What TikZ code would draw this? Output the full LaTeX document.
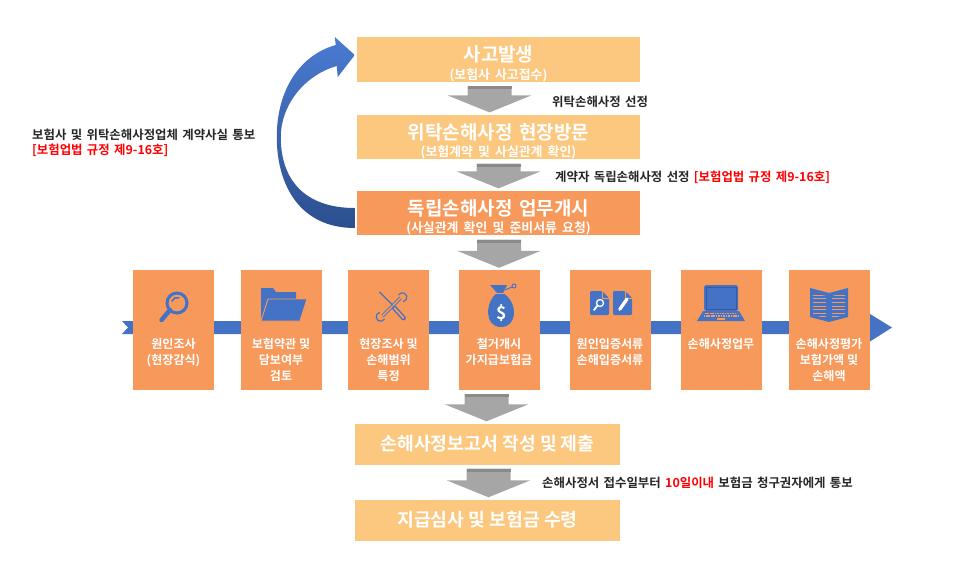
\documentclass[tikz,border=0pt]{standalone}
\usepackage{fontspec}
\setmainfont{Noto Sans CJK KR}[BoldFont={Noto Sans CJK KR Bold}]
\usetikzlibrary{calc}
\usetikzlibrary{patterns}

\definecolor{lightbox}{HTML}{FCC77E}
\definecolor{darkbox}{HTML}{F8995C}
\definecolor{iconblue}{HTML}{4472C4}
\definecolor{arrowgray}{HTML}{A6A6A6}
\definecolor{arrowedge}{HTML}{8A8A8A}
\definecolor{curvetop}{HTML}{4A7BD2}
\definecolor{curvebottom}{HTML}{2C4F8E}
\definecolor{lawred}{HTML}{FF0000}

\newcommand{\widespace}[1]{\spaceskip=#1\relax}
\newcommand{\subfont}{\fontsize{11}{13}\selectfont\widespace{0.4em}}
\newcommand{\grayarrow}[3][0]{%
  \fill[arrowgray] let \p1=(#2.south), \p2=(#3.north) in
    ($(\x2,\y1)+(#1-22,4)$) -- ($(\x2,\y1)+(#1+22,4)$) --
    ($(\x2,\y2)+(#1+22,-19)$) -- ($(\x2,\y2)+(#1+42,-19)$) --
    ($(\x2,\y2)+(#1,-2)$) -- ($(\x2,\y2)+(#1-42,-19)$) --
    ($(\x2,\y2)+(#1-22,-19)$) -- cycle;
  \fill[arrowedge] let \p1=(#2.south), \p2=(#3.north) in
    ($(\x2,\y1)+(#1-22,4)$) rectangle ($(\x2,\y1)+(#1+22,7)$);}

\begin{document}
\begin{tikzpicture}[x=0.03cm, y=-0.03cm,
    titlebox/.style={fill=lightbox, minimum width=8.49cm, minimum height=1.23cm,
      inner sep=0pt, text=white, align=center,
      font=\bfseries\fontsize{16.2}{18}\selectfont\widespace{0.35em}},
    stepbox/.style={fill=darkbox, minimum width=2.43cm, minimum height=3.6cm, inner sep=0pt},
    steptext/.style={text=white, align=center, anchor=north, inner sep=0pt,
      font=\bfseries\fontsize{10.3}{13.6}\selectfont},
    note/.style={anchor=west, inner sep=0pt, text=black!85,
      font=\bfseries\fontsize{10.6}{13}\selectfont\widespace{0.35em}}]
    \useasboundingbox (0,0) rectangle (958,584);

    \node[titlebox] (accident) at (498.5,59.5) {\rule{0pt}{21pt}사고발생\\[-3pt]{\subfont (보험사 사고접수)}};
    \node[titlebox] (visit) at (498.5,137) {\rule{0pt}{21pt}위탁손해사정 현장방문\\[-3pt]{\subfont (보험계약 및 사실관계 확인)}};
    \node[titlebox, fill=darkbox] (indep) at (498.5,213) {\rule{0pt}{21pt}독립손해사정 업무개시\\[-3pt]{\subfont (사실관계 확인 및 준비서류 요청)}};
    \node[titlebox, minimum width=7.95cm, font=\bfseries\fontsize{15.6}{18}\selectfont] (report) at (487.5,444) {손해사정보고서 작성 및 제출};
    \node[titlebox, minimum width=7.95cm, font=\bfseries\fontsize{15.6}{18}\selectfont] (payment) at (487.5,520) {지급심사 및 보험금 수령};

    \coordinate (bandstart) at (122,327.5);
    \coordinate (bandend) at (892,327.5);
    \fill[iconblue] ($(bandstart)+(0,-6.5)$) -- ($(bandend)+(-22,-6.5)$) -- ($(bandend)+(-22,-13.5)$)
      -- (bandend) -- ($(bandend)+(-22,14)$) -- ($(bandend)+(-22,6.5)$)
      -- ($(bandstart)+(0,6.5)$) -- ($(bandstart)+(6,0)$) -- cycle;

    \node[stepbox] (s1) at (173.5,330) {};
    \node[stepbox] (s2) at (281,330) {};
    \node[stepbox] (s3) at (388.5,330) {};
    \node[stepbox] (s4) at (499,330) {};
    \node[stepbox] (s5) at (610,330) {};
    \node[stepbox] (s6) at (721,330) {};
    \node[stepbox] (s7) at (829,330) {};

    \node[steptext] (t1) at ($(s1.center)+(0,8)$) {원인조사\\(현장감식)};
    \node[steptext] (t2) at ($(s2.center)+(0,8)$) {보험약관 및\\담보여부\\검토};
    \node[steptext] (t3) at ($(s3.center)+(0,8)$) {현장조사 및\\손해범위\\특정};
    \node[steptext] (t4) at ($(s4.center)+(0,8)$) {철거개시\\가지급보험금};
    \node[steptext] (t5) at ($(s5.center)+(0,8)$) {원인입증서류\\손해입증서류};
    \node[steptext] (t6) at ($(s6.center)+(0,8)$) {손해사정업무};
    \node[steptext] (t7) at ($(s7.center)+(0,8)$) {손해사정평가\\보험가액 및\\손해액};

    \begin{scope}[shift={(s1.center)}]
      \draw[iconblue, line width=2.6pt] (3.5,-27) circle (10);
      \draw[iconblue, line width=1.3pt, line cap=round] (3.5,-27) ++(200:5.5) arc (200:290:5.5);
      \draw[iconblue, line width=3.8pt, line cap=round] (-3.5,-20) -- (-12,-10);
    \end{scope}

    \begin{scope}[shift={(s2.center)}]
      \fill[iconblue] (-20,-9) -- (-20,-42) -- (-8,-42) -- (-5,-38) -- (15,-38) -- (15,-30)
        -- (-13,-30) -- cycle;
      \filldraw[iconblue, draw=darkbox, line width=0.8pt] (-20,-9) -- (-13,-31) -- (26,-31) -- (19,-9) -- cycle;
    \end{scope}

    \begin{scope}[shift={(s3.center)}]
      \draw[iconblue, line width=3pt] (-6,-14) -- (12,-32);
      \draw[darkbox, line width=1.4pt] (-6,-14) -- (12,-32);
      \draw[iconblue, line width=1pt] (-4,-11) arc (30:260:4.5);
      \draw[iconblue, line width=1pt] (10,-35) arc (210:440:4.5);
      \draw[iconblue, line width=1pt, line cap=round] (-9,-38) -- (4,-25);
      \draw[iconblue, line width=4pt, line cap=round] (6,-22) -- (15,-12);
      \draw[darkbox, line width=1.6pt, line cap=round] (6,-22) -- (15,-12);
    \end{scope}

    \begin{scope}[shift={(s4.center)}]
      \fill[iconblue] (-9,-45) -- (8,-45) -- (4,-37) .. controls (19,-28) and (19,-3) .. (2,-3)
        .. controls (-15,-3) and (-14,-28) .. (-2,-37) -- cycle;
      \draw[darkbox, line width=0.8pt] (-3,-37) -- (5,-37);
      \draw[iconblue, line width=0.8pt] (6,-40) -- (13,-43);
      \draw[iconblue, line width=0.8pt] (15,-44) circle (2);
      \node[text=white, font=\bfseries\fontsize{15}{15}\selectfont, inner sep=0pt] (dollar) at (2.5,-17) {\$};
    \end{scope}

    \begin{scope}[shift={(s5.center)}]
      \fill[iconblue, rounded corners=1pt] (-20,-15) -- (-20,-39) -- (-8,-39) -- (-1,-32) -- (-1,-15) -- cycle;
      \fill[iconblue, rounded corners=1pt] (3,-15) -- (3,-39) -- (15,-39) -- (22,-32) -- (22,-15) -- cycle;
      \draw[darkbox, line width=0.6pt] (-8,-39) -- (-8,-32) -- (-1,-32);
      \draw[darkbox, line width=0.6pt] (15,-39) -- (15,-32) -- (22,-32);
      \draw[white, line width=1.1pt] (-10,-27) circle (3.5);
      \draw[white, line width=1.6pt, line cap=round] (-12.5,-24.5) -- (-16,-20);
      \draw[white, line width=2.8pt, line cap=round] (17,-31) -- (10,-21);
      \fill[white] (9,-19) -- (8.5,-22) -- (11,-20.5) -- cycle;
    \end{scope}

    \begin{scope}[shift={(s6.center)}]
      \fill[iconblue, rounded corners=1.5pt] (-17,-45) rectangle (17,-19);
      \draw[iconblue!80!black, line width=0.5pt] (-15,-43) rectangle (15,-21);
      \fill[iconblue] (-18,-19) -- (18,-19) -- (24,-9) -- (-24,-9) -- cycle;
      \draw[darkbox, line width=0.9pt, dash pattern=on 1.4pt off 0.7pt] (-16,-16.5) -- (16,-16.5);
      \draw[darkbox, line width=0.9pt, dash pattern=on 1.4pt off 0.7pt] (-17.5,-14) -- (17.5,-14);
      \fill[darkbox] (-4,-12) rectangle (4,-10);
    \end{scope}

    \begin{scope}[shift={(s7.center)}]
      \fill[iconblue] (-19,-42) -- (0,-37) -- (0,-8) -- (-19,-13) -- cycle;
      \fill[iconblue] (0,-37) -- (19,-42) -- (19,-13) -- (0,-8) -- cycle;
      \fill[pattern=horizontal lines, pattern color=darkbox] (-16,-37) -- (-3,-34) -- (-3,-12) -- (-16,-15) -- cycle;
      \fill[pattern=horizontal lines, pattern color=darkbox] (3,-34) -- (16,-37) -- (16,-15) -- (3,-12) -- cycle;
    \end{scope}

    \grayarrow[-9]{accident}{visit}
    \grayarrow{visit}{indep}
    \grayarrow{indep}{s4}
    \grayarrow[-1]{s4}{report}
    \grayarrow[1]{report}{payment}

    \coordinate (looptail) at ($(indep.west)+(-2,5)$);
    \shade[top color=curvetop, bottom color=curvebottom, shift={(looptail)}]
      (0,10) .. controls (-55,10) and (-78,-33) .. (-78,-81)
      .. controls (-78,-128) and (-55,-163) .. (-19,-173)
      -- (-20,-181) -- (0,-163) -- (-17,-141) -- (-18,-152)
      .. controls (-50,-143) and (-74,-113) .. (-74,-81)
      .. controls (-74,-38) and (-50,-10) .. (0,-10) -- cycle;

    \node[note] (selectlbl) at (552,102) {위탁손해사정 선정};
    \node[note] (contractlbl) at (555,177) {계약자 독립손해사정 선정 \textcolor{lawred}{[보험업법 규정 제9-16호]}};
    \node[note, align=left] (noticelbl) at (32,142.5) {보험사 및 위탁손해사정업체 계약사실 통보\\\textcolor{lawred}{[보험업법 규정 제9-16호]}};
    \node[note] (deadlinelbl) at (542,483) {손해사정서 접수일부터 \textcolor{lawred}{10일이내} 보험금 청구권자에게 통보};
\end{tikzpicture}
\end{document}
